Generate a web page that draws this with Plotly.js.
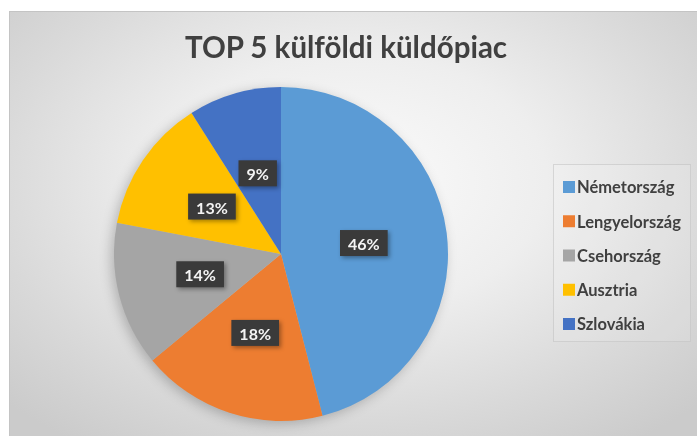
<!DOCTYPE html>
<html>
<head>
<meta charset="utf-8">
<script src="https://cdn.plot.ly/plotly-3.0.1.min.js"></script>
<style>
  html, body { margin: 0; padding: 0; background: #ffffff; width: 697px; height: 436px; overflow: hidden; }
  #frame {
    position: absolute; left: 9px; top: 11px; width: 688px; height: 425px;
    border-top: 1px solid #c4c4c4; border-left: 1px solid #c4c4c4;
    background: radial-gradient(ellipse 70% 75% at 50% 40%, #fbfbfb 0%, #eeeeee 40%, #d9d9d9 75%, #cbcbcb 100%);
  }
  #chart { position: absolute; left: 0; top: 0; width: 688px; height: 425px; }
  .pielayer { filter: drop-shadow(-3px 3px 6px rgba(0,0,0,0.22)); }
  .lblbox { filter: drop-shadow(2px 2px 2px rgba(0,0,0,0.35)); }
</style>
</head>
<body>
<div id="frame"><div id="chart"></div></div>
<script>
const categories = ["Németország", "Lengyelország", "Csehország", "Ausztria", "Szlovákia"];
const shares = [46, 18, 14, 13, 9];
const colors = ["#5B9BD5", "#ED7D31", "#A5A5A5", "#FFC000", "#4472C4"];
const titleText = "TOP 5 külföldi küldőpiac";

const W = 688, H = 425;
const trace = {
  type: "pie",
  labels: categories,
  values: shares,
  sort: false,
  direction: "clockwise",
  rotation: 0,
  marker: { colors: colors, line: { width: 0 } },
  textinfo: "percent",
  texttemplate: "%{percent:.0%}",
  textposition: "inside",
  insidetextorientation: "horizontal",
  insidetextfont: { family: "Lato, 'Open Sans', sans-serif", size: 16, color: "#f4f4f4", weight: 700 },
  domain: { x: [104 / W, 438 / W], y: [(H - 409) / H, (H - 75) / H] },
  hoverinfo: "none"
};

const layout = {
  width: W, height: H,
  margin: { l: 0, r: 0, t: 0, b: 0, autoexpand: false },
  paper_bgcolor: "rgba(0,0,0,0)",
  plot_bgcolor: "rgba(0,0,0,0)",
  title: {
    text: "<b>" + titleText + "</b>",
    font: { family: "Lato, 'Open Sans', sans-serif", size: 29.5, color: "#404040" },
    x: 336 / W, xanchor: "center",
    y: (H - 36) / H, yanchor: "middle", xref: "paper", yref: "container"
  },
  showlegend: true,
  legend: {
    x: 543 / W, xanchor: "left",
    y: (H - 152) / H, yanchor: "top",
    bgcolor: "rgba(255,255,255,0.12)",
    bordercolor: "rgba(190,190,190,0.5)", borderwidth: 1,
    font: { family: "Lato, 'Open Sans', sans-serif", size: 16.5, color: "#404040", weight: 700 },
    itemwidth: 30,
    traceorder: "normal"
  }
};

Plotly.newPlot("chart", [trace], layout, { displayModeBar: false, staticPlot: true }).then(function (gd) {
  const svg = gd.querySelector("svg.main-svg");
  const cd = gd.calcdata[0];
  const cx = cd[0].cx, cy = cd[0].cy, R = cd[0].r;
  // place percentage labels halfway along each slice's bisector, with a dark box behind
  gd.querySelectorAll("g.slice").forEach(function (g, i) {
    const t = g.querySelector("text.slicetext");
    if (!t) return;
    const pm = cd[i].pxmid;
    const len = Math.hypot(pm[0], pm[1]) || 1;
    const X = cx + 0.5 * R * pm[0] / len, Y = cy + 0.5 * R * pm[1] / len;
    const p = svg.createSVGPoint(); p.x = X; p.y = Y;
    const m = t.parentNode.getScreenCTM().inverse().multiply(svg.getScreenCTM());
    const q = p.matrixTransform(m);
    t.removeAttribute("transform");
    const bb = t.getBBox();
    const tr = "translate(" + (q.x - (bb.x + bb.width / 2)) + "," + (q.y - (bb.y + bb.height / 2)) + ")";
    t.setAttribute("transform", tr);
    const r = document.createElementNS("http://www.w3.org/2000/svg", "rect");
    r.setAttribute("x", bb.x - 8);
    r.setAttribute("y", bb.y - 4);
    r.setAttribute("width", bb.width + 16);
    r.setAttribute("height", bb.height + 7);
    r.setAttribute("fill", "#3a3a3a");
    r.setAttribute("class", "lblbox");
    r.setAttribute("transform", tr);
    t.parentNode.insertBefore(r, t);
  });
  // spread legend entries like the reference
  const legend = gd.querySelector("g.legend");
  if (legend) {
    const sb = legend.querySelector("g.scrollbox");
    if (sb) sb.removeAttribute("clip-path");
    const items = legend.querySelectorAll("g.traces");
    const gap = 34.25;
    items.forEach(function (g, i) {
      g.setAttribute("transform", "translate(-4," + (23 + i * gap) + ")");
      const lt = g.querySelector("text.legendtext");
      if (lt) lt.setAttribute("x", 28);
    });
    const bg = legend.querySelector("rect.bg");
    if (bg) { bg.setAttribute("height", 177); bg.setAttribute("width", 137); }
  }
});
</script>
</body>
</html>
